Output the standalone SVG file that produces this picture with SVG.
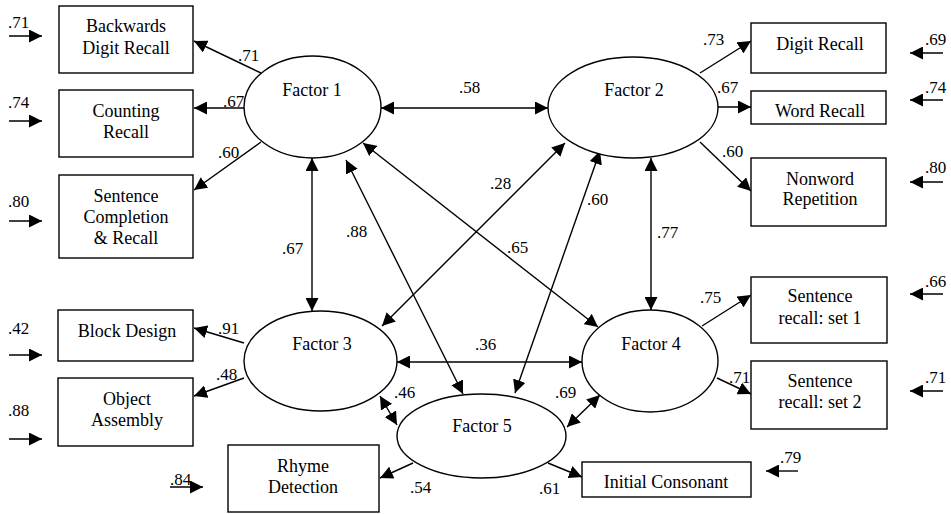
<svg xmlns="http://www.w3.org/2000/svg" width="951" height="514" viewBox="0 0 951 514">
<style>
.box{fill:#fff;stroke:#000;stroke-width:1.4}
.fac{fill:#fff;stroke:#000;stroke-width:1.4}
text{font-family:'Liberation Serif','DejaVu Serif',serif}
.t{font-size:18px;fill:#000;text-anchor:middle}
.n{font-size:17px;fill:#000}
.c{fill:none;stroke:#000;stroke-width:1.4}
.a{marker-end:url(#ah)}
.d{marker-start:url(#ah);marker-end:url(#ah)}
</style>
<defs>
<marker id="ah" markerUnits="userSpaceOnUse" markerWidth="13" markerHeight="13" refX="13" refY="6.5" orient="auto-start-reverse" viewBox="0 0 13 13">
<path d="M0,0 L13,6.5 L0,13 z" fill="#000"/>
</marker>
</defs>
<rect width="951" height="514" fill="#fff"/>

<g id="connectors">
<path class="c a" d="M261,73 L194,41"/>
<path class="c a" d="M244,108 L194,108"/>
<path class="c a" d="M261,142 L194,190"/>
<path class="c a" d="M700,73 L751,41"/>
<path class="c a" d="M718,107 L751,107"/>
<path class="c a" d="M700,142 L751,191"/>
<path class="c d" d="M381,108 L548,108"/>
<path class="c d" d="M312,158 L312,311"/>
<path class="c d" d="M363,143 L598,327"/>
<path class="c d" d="M565,143 L382,326"/>
<path class="c d" d="M346,160 L463,394"/>
<path class="c d" d="M600,151 L515,393"/>
<path class="c d" d="M651,158 L651,310"/>
<path class="c d" d="M397,362 L582,362"/>
<path class="c d" d="M380,396 L397,425"/>
<path class="c d" d="M600,395 L567,427"/>
<path class="c a" d="M244,343 L194,328"/>
<path class="c a" d="M244,378 L194,396"/>
<path class="c a" d="M702,326 L751,295"/>
<path class="c a" d="M717,378 L751,394"/>
<path class="c a" d="M413,463 L380,478"/>
<path class="c a" d="M548,463 L582,477"/>
<path class="c a" d="M9,36 L42,36"/>
<path class="c a" d="M9,121 L42,121"/>
<path class="c a" d="M9,221 L42,221"/>
<path class="c a" d="M9,355 L42,355"/>
<path class="c a" d="M9,439 L42,439"/>
<path class="c a" d="M170,487 L203,487"/>
<path class="c a" d="M943,53 L910,53"/>
<path class="c a" d="M943,100 L910,100"/>
<path class="c a" d="M943,182 L910,182"/>
<path class="c a" d="M943,294 L910,294"/>
<path class="c a" d="M943,391 L910,391"/>
<path class="c a" d="M798,471 L766,471"/>
</g>

<g id="labels" font-family="'Liberation Serif', serif">
<text class="n" x="238" y="61">.71</text>
<text class="n" x="223" y="107">.67</text>
<text class="n" x="218" y="158">.60</text>
<text class="n" x="703" y="45">.73</text>
<text class="n" x="717" y="93">.67</text>
<text class="n" x="722" y="157">.60</text>
<text class="n" x="459" y="93">.58</text>
<text class="n" x="282" y="254">.67</text>
<text class="n" x="346" y="237">.88</text>
<text class="n" x="490" y="189">.28</text>
<text class="n" x="507" y="253">.65</text>
<text class="n" x="587" y="205">.60</text>
<text class="n" x="657" y="238">.77</text>
<text class="n" x="218" y="334">.91</text>
<text class="n" x="216" y="380">.48</text>
<text class="n" x="700" y="303">.75</text>
<text class="n" x="729" y="383">.71</text>
<text class="n" x="475" y="350">.36</text>
<text class="n" x="394" y="398">.46</text>
<text class="n" x="555" y="398">.69</text>
<text class="n" x="410" y="493">.54</text>
<text class="n" x="539" y="494">.61</text>
<text class="n" x="8" y="28">.71</text>
<text class="n" x="8" y="108">.74</text>
<text class="n" x="8" y="207">.80</text>
<text class="n" x="8" y="334">.42</text>
<text class="n" x="8" y="416">.88</text>
<text class="n" x="170" y="485">.84</text>
<text class="n" x="925" y="45">.69</text>
<text class="n" x="925" y="93">.74</text>
<text class="n" x="925" y="173">.80</text>
<text class="n" x="925" y="287">.66</text>
<text class="n" x="925" y="383">.71</text>
<text class="n" x="780" y="463">.79</text>
</g>

<g id="bdr"><rect class="box" x="59" y="6" width="134" height="67"/><text class="t" x="126" y="32">Backwards</text><text class="t" x="126" y="54">Digit Recall</text></g>
<g id="cr"><rect class="box" x="59" y="90" width="134" height="67"/><text class="t" x="126" y="117">Counting</text><text class="t" x="126" y="138">Recall</text></g>
<g id="scr"><rect class="box" x="59" y="175" width="134" height="83"/><text class="t" x="126" y="202">Sentence</text><text class="t" x="126" y="223">Completion</text><text class="t" x="126" y="244">&amp; Recall</text></g>
<g id="dr"><rect class="box" x="751" y="23" width="135" height="50"/><text class="t" x="820" y="50">Digit Recall</text></g>
<g id="wr"><rect class="box" x="751" y="91" width="135" height="33"/><text class="t" x="820" y="117">Word Recall</text></g>
<g id="nr"><rect class="box" x="751" y="158" width="135" height="68"/><text class="t" x="820" y="185">Nonword</text><text class="t" x="820" y="205">Repetition</text></g>
<g id="bd"><rect class="box" x="58" y="310" width="135" height="51"/><text class="t" x="127" y="337">Block Design</text></g>
<g id="oa"><rect class="box" x="58" y="378" width="135" height="68"/><text class="t" x="127" y="405">Object</text><text class="t" x="127" y="426">Assembly</text></g>
<g id="rd"><rect class="box" x="228" y="445" width="151" height="67"/><text class="t" x="303" y="472">Rhyme</text><text class="t" x="303" y="493">Detection</text></g>
<g id="sr1"><rect class="box" x="751" y="277" width="136" height="66"/><text class="t" x="820" y="302">Sentence</text><text class="t" x="820" y="324">recall: set 1</text></g>
<g id="sr2"><rect class="box" x="751" y="361" width="136" height="68"/><text class="t" x="820" y="387">Sentence</text><text class="t" x="820" y="408">recall: set 2</text></g>
<g id="ic"><rect class="box" x="582" y="462" width="169" height="35"/><text class="t" x="666" y="488">Initial Consonant</text></g>

<g id="f1"><ellipse class="fac" cx="312.5" cy="107" rx="68.5" ry="51"/><text class="t" x="312" y="96">Factor 1</text></g>
<g id="f2"><ellipse class="fac" cx="633" cy="107.5" rx="85" ry="50.5"/><text class="t" x="634" y="96">Factor 2</text></g>
<g id="f3"><ellipse class="fac" cx="320.5" cy="361" rx="76.5" ry="50"/><text class="t" x="322" y="350">Factor 3</text></g>
<g id="f4"><ellipse class="fac" cx="650" cy="361" rx="68" ry="51"/><text class="t" x="651" y="350">Factor 4</text></g>
<g id="f5"><ellipse class="fac" cx="481.5" cy="436" rx="84.5" ry="42"/><text class="t" x="482" y="432">Factor 5</text></g>
</svg>
